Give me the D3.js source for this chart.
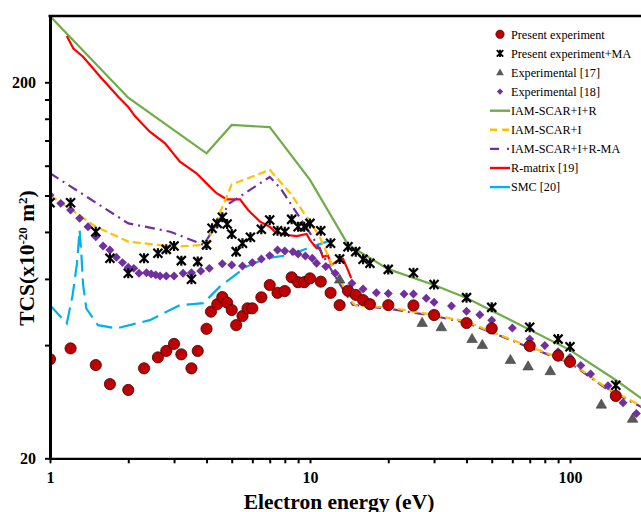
<!DOCTYPE html>
<html>
<head>
<meta charset="utf-8">
<script src="https://cdn.jsdelivr.net/npm/d3@7"></script>
<style>
  body { margin: 0; background: #fff; }
  svg text { font-family: "Liberation Serif", "Times New Roman", serif; }
  .tick-label { font-weight: bold; font-size: 16px; }
  .axis-title { font-weight: bold; font-size: 21.5px; }
  .legend text { font-size: 12.2px; }
</style>
</head>
<body>
<div id="chart"></div>
<script>
// values: [energy eV, TCS x1e-20 m2]
const presentExp = [[1,36.7],[1.2,39.2],[1.5,35.4],[1.7,31.5],[2.0,30.4],[2.3,34.7],[2.6,37.1],[2.8,38.6],[3.0,40.3],[3.2,37.8],[3.5,34.7],[3.7,38.6],[4.0,44.2],[4.16,49.1],[4.4,51.4],[4.6,53.7],[4.8,51.9],[5.0,49.6],[5.2,45.2],[5.5,47.8],[5.75,50.1],[6.0,50.1],[6.5,53.6],[7.0,57.8],[7.5,55.1],[8.0,55.7],[8.5,60.6],[9.0,58.8],[9.5,58.8],[10,60.2],[11,59.0],[12,55.1],[13,51.1],[14,55.8],[15,54.4],[16,52.7],[17,51.4],[20,51.1],[25,51.0],[30,48.1],[40,45.8],[50,44.3],[70,39.8],[90,37.5],[100,36.1],[150,29.3]];
const presentMA = [[1,95.7],[1.2,95.7],[1.5,80.1],[1.7,68.1],[2.0,62.1],[2.3,68.1],[2.6,70.2],[2.8,71.9],[3.0,73.4],[3.2,67.1],[3.5,59.9],[3.7,66.7],[4.0,73.9],[4.2,81.8],[4.4,84.3],[4.6,87.5],[4.8,84.0],[5.0,79.0],[5.2,70.9],[5.5,74.6],[5.9,77.4],[6.5,81.3],[7.0,86.1],[7.5,80.6],[8.0,80.1],[8.5,86.4],[9.0,82.6],[9.5,82.6],[10,84.3],[11,80.6],[12,74.6],[13,67.8],[14,73.1],[15,70.9],[16,67.7],[17,66.0],[20,63.6],[25,62.3],[30,58.0],[40,53.5],[50,50.4],[70,44.6],[90,41.5],[100,39.6],[150,31.3]];
const exp17 = [[13,59.6],[27,45.7],[32,44.5],[42,41.4],[46,39.9],[59,36.4],[69,35.0],[84,34.0],[132,27.7],[174,25.4]];
const exp18 = [[1,100.3],[1.1,95.3],[1.2,91.5],[1.3,87.0],[1.4,82.6],[1.5,77.7],[1.6,73.4],[1.7,71.6],[1.8,68.5],[1.9,66.3],[2.0,64.4],[2.1,64.0],[2.2,62.1],[2.35,62.3],[2.45,61.8],[2.55,61.5],[2.65,61.1],[2.8,61.1],[3.0,61.1],[3.25,62.1],[3.5,62.3],[3.8,63.0],[4.1,64.0],[4.6,65.8],[5.0,65.3],[5.5,64.9],[6.0,66.3],[6.5,67.8],[7.0,69.2],[7.5,71.6],[8.0,71.2],[8.6,70.9],[9.0,69.9],[9.6,69.0],[10.2,68.1],[10.6,66.0],[11.5,64.7],[12.5,62.1],[14.5,58.4],[16,56.4],[18,55.1],[20,54.9],[23,54.7],[25,54.7],[28,53.3],[30,52.0],[35,50.8],[40,49.2],[45,48.2],[50,46.6],[60,44.4],[70,41.5],[80,39.9],[90,38.4],[100,37.1],[110,35.3],[120,33.5],[140,31.2],[160,28.1],[180,26.3]];

const iamIR = [[1,300],[2,182],[4,129.5],[5,154],[7,152],[10,110],[14,74],[20,63.7],[30,57.8],[40,53.4],[100,38.8],[150,32.3],[200,28]];
const iamI = [[1,100.3],[1.5,82.6],[2,75.4],[3,73.1],[4,73.9],[5,107],[7,117],[8.4,101.4],[10.3,82.6],[10.9,77.6],[12.3,64.1],[14.6,51.8],[15,51],[20,50.4],[30,48.1],[40,46.2],[50,43.4],[70,39.6],[100,36.1],[140,30.6],[200,27]];
const iamIRMA = [[1,114.6],[2,84.3],[2.9,80.1],[3.9,73.9],[4.9,95.3],[7,112],[7.7,104.5],[10.3,77],[12.3,62],[14.6,51.2],[20,50],[30,47.8],[40,45.9],[50,43.2],[70,39.4],[100,35.9],[140,30.4],[200,26.8]];
const rMatrix = [[1.16,265.6],[1.23,246],[1.34,234],[1.56,207],[1.83,183],[2.0,172],[2.12,162.6],[2.42,147.8],[2.77,137.6],[3.16,123],[3.66,114.6],[4.0,107.7],[4.37,101.4],[4.78,97.7],[5.38,97.7],[5.78,91.5],[6.42,85.2],[7.0,82.6],[7.33,80.1],[8.13,78.5],[8.9,78],[9.7,79],[10,76.1],[10.6,72.4],[10.9,72.5],[11.2,68.6],[11.7,69.4],[12.1,65.3],[12.7,67.0],[13.4,67.8],[14.0,63.3],[14.4,60.3]];
const smc = [[1,51.1],[1.16,45.7],[1.22,54],[1.27,66],[1.30,81],[1.32,70],[1.34,58],[1.38,50],[1.53,45.2],[1.8,44.3],[2.42,46.6],[3.16,51.1],[3.89,51.7],[4.5,57.2],[5.7,64.7],[6.8,68.1],[8.4,69.5],[10,72.8],[11.7,75.5]];

const xTicks = [1,2,3,4,5,6,7,8,9,10,20,30,40,50,60,70,80,90,100,200];
const xLabels = [1, 10, 100];
const yTicks = [20,40,60,80,100,120,140,160,180,200];
const yLabels = [20, 200];

const legendNames = ['Present experiment', 'Present experiment+MA', 'Experimental  [17]', 'Experimental  [18]',
  'IAM-SCAR+I+R', 'IAM-SCAR+I', 'IAM-SCAR+I+R-MA', 'R-matrix  [19]', 'SMC [20]'];

const W = 641, H = 512;
const margin = { left: 50, top: 16, bottom: 458.3 };

const svg = d3.select('#chart').append('svg')
  .attr('width', W).attr('height', H);

/* log scales, 260 px per decade on x, 376 px per decade on y */
const x = d3.scaleLog().domain([1, 200]).range([margin.left, margin.left + 260 * Math.log10(200)]);
const y = d3.scaleLog().domain([20, 300]).range([margin.bottom, margin.bottom - 376 * Math.log10(15)]);

svg.append('clipPath').attr('id', 'plot-clip')
  .append('rect').attr('x', margin.left).attr('y', margin.top)
  .attr('width', W - margin.left).attr('height', margin.bottom - margin.top);

const plot = svg.append('g').attr('clip-path', 'url(#plot-clip)');

const line = d3.line().x((d) => x(d[0])).y((d) => y(d[1]));

const lineSeries = [
  { data: smc, color: '#00B0F0', dash: '17,7' },
  { data: iamIR, color: '#70AD47', dash: null },
  { data: rMatrix, color: '#FF0000', dash: null },
  { data: iamIRMA, color: '#7030A0', dash: '10,5,2,5' },
  { data: iamI, color: '#FFC000', dash: '8,4' },
];

lineSeries.forEach((s) => {
  plot.append('path')
    .datum(s.data)
    .attr('d', line)
    .attr('fill', 'none')
    .attr('stroke', s.color)
    .attr('stroke-width', 2.2)
    .attr('stroke-dasharray', s.dash);
});

/* marker shapes: the MA marker is an X with a vertical stroke (star) */
const crossPath = 'M-4.5,-4.5L4.5,4.5M-4.5,4.5L4.5,-4.5M0,-5L0,5';
const diamondPath = d3.symbol().type(d3.symbolSquare).size(40)();
const trianglePath = d3.symbol().type(d3.symbolTriangle).size(48)();

plot.selectAll('.tri').data(exp17).join('path')
  .attr('class', 'tri')
  .attr('d', trianglePath)
  .attr('transform', (d) => `translate(${x(d[0])},${y(d[1])})`)
  .attr('fill', '#595959').attr('stroke', '#404040').attr('stroke-width', 0.6);

plot.selectAll('.dia').data(exp18).join('path')
  .attr('class', 'dia')
  .attr('d', diamondPath)
  .attr('transform', (d) => `translate(${x(d[0])},${y(d[1])})rotate(45)`)
  .attr('fill', '#7030A0');

plot.selectAll('.ma').data(presentMA).join('path')
  .attr('class', 'ma')
  .attr('d', crossPath)
  .attr('transform', (d) => `translate(${x(d[0])},${y(d[1])})`)
  .attr('fill', 'none').attr('stroke', '#000').attr('stroke-width', 2.2);

plot.selectAll('.pe').data(presentExp).join('circle')
  .attr('class', 'pe')
  .attr('cx', (d) => x(d[0]))
  .attr('cy', (d) => y(d[1]))
  .attr('r', 5.6)
  .attr('fill', '#C00000').attr('stroke', '#3a0000').attr('stroke-width', 0.8);

/* axes */
const xAxis = d3.axisBottom(x).tickValues(xTicks).tickSize(5).tickSizeOuter(0)
  .tickFormat((d) => (xLabels.includes(d) ? d : ''));
const xg = svg.append('g').attr('transform', `translate(0,${margin.bottom})`).call(xAxis);
xg.select('.domain').attr('stroke-width', 2.2);
xg.selectAll('.tick line').attr('stroke-width', 2);
xg.selectAll('.tick text').attr('class', 'tick-label').attr('dy', '1.05em').attr('fill', '#000');

const yAxis = d3.axisLeft(y).tickValues(yTicks).tickSize(5).tickSizeOuter(0)
  .tickFormat((d) => (yLabels.includes(d) ? d : ''));
const yg = svg.append('g').attr('transform', `translate(${margin.left},0)`).call(yAxis);
yg.select('.domain').attr('stroke-width', 3);
yg.selectAll('.tick line').attr('stroke-width', 2);
yg.selectAll('.tick text').attr('class', 'tick-label').attr('x', -14).attr('fill', '#000');

/* top frame */
svg.append('line')
  .attr('x1', margin.left - 1.5).attr('x2', W)
  .attr('y1', margin.top).attr('y2', margin.top)
  .attr('stroke', '#000').attr('stroke-width', 2.5);

/* axis titles */
svg.append('text').attr('class', 'axis-title')
  .attr('x', 339).attr('y', 508.5).attr('text-anchor', 'middle')
  .text('Electron energy (eV)');

const yt = svg.append('text').attr('class', 'axis-title')
  .attr('text-anchor', 'middle')
  .attr('transform', 'translate(34,258)rotate(-90)');
yt.append('tspan').text('TCS(x10');
yt.append('tspan').attr('baseline-shift', 'super').attr('font-size', '13px').text('-20');
yt.append('tspan').text(' m');
yt.append('tspan').attr('baseline-shift', 'super').attr('font-size', '13px').text('2');
yt.append('tspan').text(')');

/* legend */
const legend = svg.append('g').attr('class', 'legend');
const rowY = (i) => 34.3 + i * 19.1;
legendNames.forEach((name, i) => {
  legend.append('text').attr('x', 511).attr('y', rowY(i) + 4.2).text(name);
});
legend.append('circle').attr('cx', 500).attr('cy', rowY(0)).attr('r', 4.2)
  .attr('fill', '#C00000').attr('stroke', '#3a0000').attr('stroke-width', 0.6);
legend.append('path').attr('d', 'M-3.2,-3.2L3.2,3.2M-3.2,3.2L3.2,-3.2M0,-3.6L0,3.6')
  .attr('transform', `translate(500,${rowY(1)})`)
  .attr('fill', 'none').attr('stroke', '#000').attr('stroke-width', 1.9);
legend.append('path').attr('d', d3.symbol().type(d3.symbolTriangle).size(26)())
  .attr('transform', `translate(500,${rowY(2) + 0.5})`).attr('fill', '#595959');
legend.append('path').attr('d', d3.symbol().type(d3.symbolSquare).size(20)())
  .attr('transform', `translate(500,${rowY(3)})rotate(45)`).attr('fill', '#7030A0');
const legendLines = [
  { color: '#70AD47', dash: null },
  { color: '#FFC000', dash: '7,5' },
  { color: '#7030A0', dash: '9,8,2,8' },
  { color: '#FF0000', dash: null },
  { color: '#00B0F0', dash: null },
];
legendLines.forEach((s, i) => {
  legend.append('line')
    .attr('x1', 490).attr('x2', 510)
    .attr('y1', rowY(i + 4)).attr('y2', rowY(i + 4))
    .attr('stroke', s.color).attr('stroke-width', 2.4)
    .attr('stroke-dasharray', s.dash);
});
</script>
</body>
</html>
